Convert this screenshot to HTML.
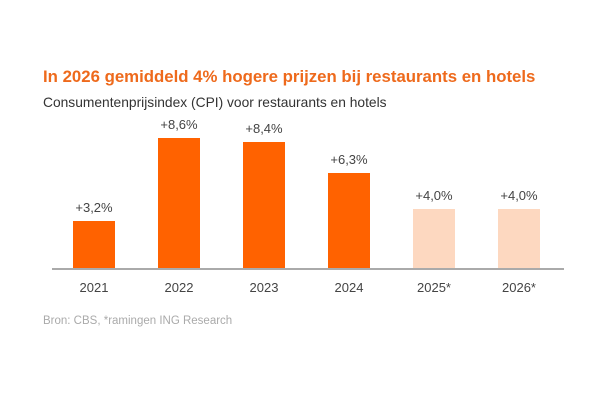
<!DOCTYPE html>
<html><head><style>
body{margin:0;width:600px;height:400px;background:#fff;font-family:"Liberation Sans",sans-serif;position:relative;overflow:hidden}
.t{position:absolute;white-space:nowrap}
.b{position:absolute;width:42px}
.v{position:absolute;width:80px;text-align:center;font-size:13px;color:#444}
.x{position:absolute;width:80px;text-align:center;font-size:13px;color:#444;top:280px}
</style></head><body>
<div class="t" style="left:43px;top:67px;font-size:16.8px;font-weight:bold;color:#ee6a1c">In 2026 gemiddeld 4% hogere prijzen bij restaurants en hotels</div>
<div class="t" style="left:43px;top:95px;font-size:13.8px;color:#333">Consumentenprijsindex (CPI) voor restaurants en hotels</div>
<div class="b" style="left:73px;top:221px;height:48px;background:#ff6200"></div>
<div class="b" style="left:158px;top:138px;height:131px;background:#ff6200"></div>
<div class="b" style="left:243px;top:142px;height:127px;background:#ff6200"></div>
<div class="b" style="left:328px;top:173px;height:96px;background:#ff6200"></div>
<div class="b" style="left:413px;top:209px;height:60px;background:#fdd8c0"></div>
<div class="b" style="left:498px;top:209px;height:60px;background:#fdd8c0"></div>
<div style="position:absolute;left:52px;top:268px;width:512px;height:2px;background:#aaa"></div>
<div class="v" style="left:54px;top:200px">+3,2%</div>
<div class="v" style="left:139px;top:117px">+8,6%</div>
<div class="v" style="left:224px;top:121px">+8,4%</div>
<div class="v" style="left:309px;top:152px">+6,3%</div>
<div class="v" style="left:394px;top:188px">+4,0%</div>
<div class="v" style="left:479px;top:188px">+4,0%</div>
<div class="x" style="left:54px">2021</div>
<div class="x" style="left:139px">2022</div>
<div class="x" style="left:224px">2023</div>
<div class="x" style="left:309px">2024</div>
<div class="x" style="left:394px">2025*</div>
<div class="x" style="left:479px">2026*</div>
<div class="t" style="left:43px;top:315px;font-size:11.5px;color:#aaa">Bron: CBS, *ramingen ING Research</div>
</body></html>
